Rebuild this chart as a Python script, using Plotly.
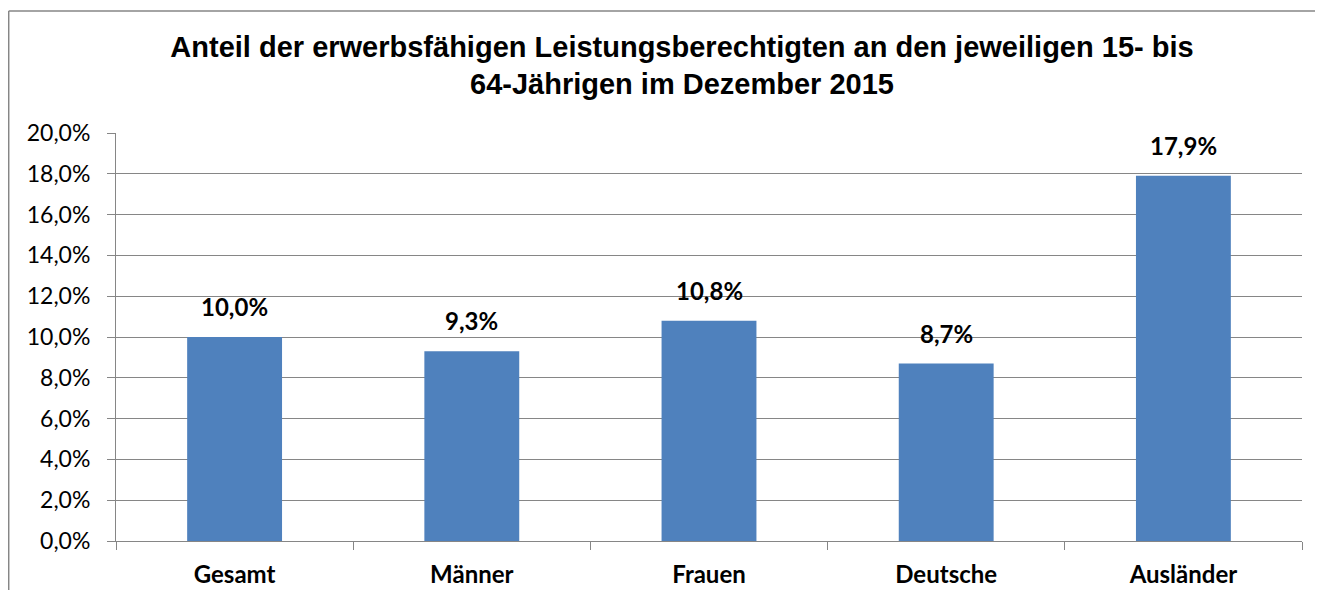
import plotly.graph_objects as go

categories = ["Gesamt", "Männer", "Frauen", "Deutsche", "Ausländer"]
values = [10.0, 9.3, 10.8, 8.7, 17.9]
tick_vals = [0, 2, 4, 6, 8, 10, 12, 14, 16, 18, 20]
tick_text = ["0,0%", "2,0%", "4,0%", "6,0%", "8,0%", "10,0%", "12,0%", "14,0%", "16,0%", "18,0%", "20,0%"]
value_labels = ["10,0%", "9,3%", "10,8%", "8,7%", "17,9%"]
title_text = "Anteil der erwerbsfähigen Leistungsberechtigten an den jeweiligen 15- bis<br>64-Jährigen im Dezember 2015"

# page body has an 8px margin, so the figure is drawn smaller and offset
W, H = 1307, 582
L, R, T, B = 108, 13, 125, 49
pw, ph = W - L - R, H - T - B

fig = go.Figure()
fig.add_trace(go.Bar(
    x=categories, y=values, marker=dict(color="#4F81BD", line=dict(width=0)),
    width=0.4, hoverinfo="skip"))

for c, v, lab in zip(categories, values, value_labels):
    fig.add_annotation(x=c, y=v, text=f"<b>{lab}</b>",
                       showarrow=False, yanchor="bottom", yshift=14,
                       font=dict(family="Lato", size=24, color="#000000"))

# chart border (outer frame: left and top edges visible)
x_left = (0.7 - L) / pw
x_right = (W - L) / pw
y_top = (ph + T - 3) / ph
y_bottom = -(H - T - ph) / ph
fig.add_shape(type="line", xref="paper", yref="paper",
              x0=x_left, x1=x_right, y0=y_top, y1=y_top,
              line=dict(color="#868686", width=1.5), layer="below")
fig.add_shape(type="line", xref="paper", yref="paper",
              x0=x_left, x1=x_left, y0=y_top, y1=y_bottom,
              line=dict(color="#868686", width=1.5), layer="below")

fig.update_layout(
    width=W, height=H,
    margin=dict(l=L, r=R, t=T, b=B, autoexpand=False),
    paper_bgcolor="white", plot_bgcolor="white",
    showlegend=False,
    title=dict(text=f"<b>{title_text}</b>", x=674 / W, xanchor="center", xref="container",
               y=1 - 48.5 / H, yanchor="middle", yref="container",
               font=dict(family="Liberation Sans, Arial, sans-serif", size=29, color="#000000")),
    xaxis=dict(showline=True, linecolor="#868686", linewidth=1,
               ticks="outside", tickson="boundaries", ticklen=8, tickcolor="#868686",
               tickfont=dict(family="Lato", size=24, color="#000000", weight="bold"),
               ticklabelstandoff=12, showgrid=False, fixedrange=True),
    yaxis=dict(range=[0, 20], tickvals=tick_vals, ticktext=tick_text,
               showline=True, linecolor="#868686", linewidth=1,
               ticks="outside", ticklen=8, tickcolor="#868686",
               showgrid=True, gridcolor="#868686", gridwidth=1,
               tickfont=dict(family="Lato", size=23, color="#000000"),
               ticklabelstandoff=12, zeroline=False, fixedrange=True),
)

fig.write_html("out.html")
